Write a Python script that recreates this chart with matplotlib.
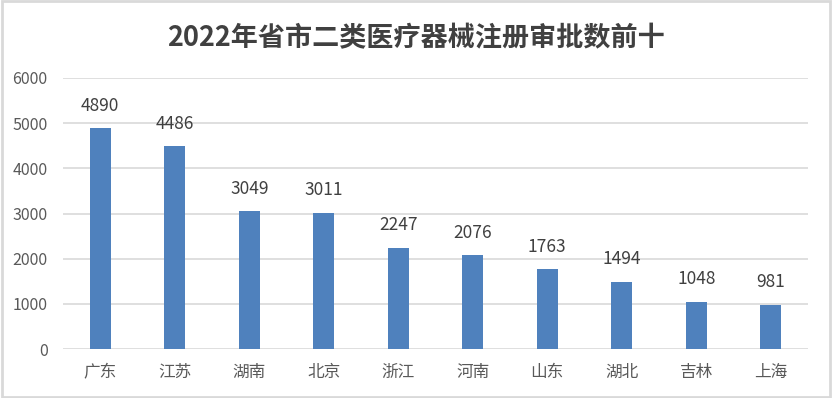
import matplotlib
matplotlib.use("Agg")
import matplotlib.pyplot as plt
from matplotlib.patches import Rectangle

plt.rcParams['font.family'] = ['Noto Sans CJK SC', 'DejaVu Sans']

categories = ["广东", "江苏", "湖南", "北京", "浙江", "河南", "山东", "湖北", "吉林", "上海"]
values = [4890, 4486, 3049, 3011, 2247, 2076, 1763, 1494, 1048, 981]
yticks = [0, 1000, 2000, 3000, 4000, 5000, 6000]
title = "2022年省市二类医疗器械注册审批数前十"

fig = plt.figure(figsize=(8.32, 3.98), dpi=100)
ax = fig.add_axes([63/832, 1 - 349/398, 745/832, (349 - 78)/398])

x = range(len(categories))
ax.bar(x, values, width=0.28, color="#4F81BD", zorder=3)
for i, v in zip(x, values):
    ax.text(i, v + 300, str(v), ha="center", va="bottom", fontsize=12.5, color="#404040")

ax.set_xlim(-0.5, len(categories) - 0.5)
ax.set_ylim(0, 6000)
ax.set_yticks(yticks)
ax.set_yticklabels([str(t) for t in yticks], fontsize=11.5, color="#595959")
ax.set_xticks(list(x))
ax.set_xticklabels(categories, fontsize=12, color="#595959")
ax.tick_params(axis="both", length=0)
ax.tick_params(axis="y", pad=11)
ax.tick_params(axis="x", pad=11)
ax.grid(axis="y", color="#D9D9D9", linewidth=1.2, zorder=0)
for s in ax.spines.values():
    s.set_visible(False)

fig.text(0.5, 1 - 38/398, title, ha="center", va="center", fontsize=19.5,
         fontweight="bold", color="#404040")

fig.patches.append(Rectangle((0.002, 0.003), 0.996, 0.994, transform=fig.transFigure,
                             fill=False, edgecolor="#D9D9D9", linewidth=2))

fig.savefig("out.png", dpi=100)
